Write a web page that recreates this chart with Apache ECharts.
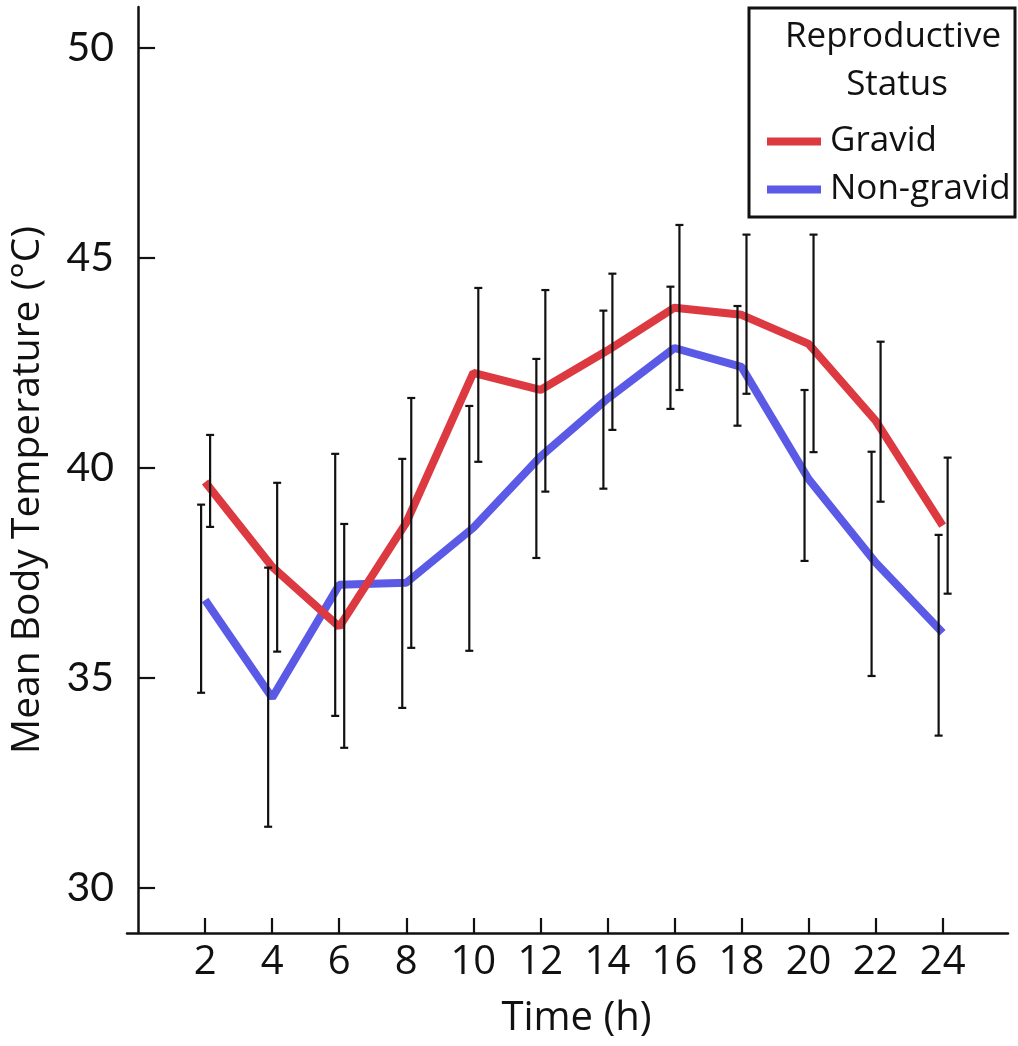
<!DOCTYPE html>
<html>
<head>
<meta charset="utf-8">
<script src="https://cdn.jsdelivr.net/npm/echarts@6/dist/echarts.min.js"></script>
<style>html,body{margin:0;padding:0;background:#fff}#c{width:1018px;height:1046px}</style>
</head>
<body>
<div id="c"></div>
<script>
// Time points (h)
const hours = [2, 4, 6, 8, 10, 12, 14, 16, 18, 20, 22, 24];
// Gravid mean body temperature and error bar limits
const gravidMean = [39.67, 37.65, 36.22, 38.70, 42.27, 41.86, 42.80, 43.82, 43.65, 42.96, 41.13, 38.63];
const gravidLow  = [38.60, 35.63, 33.34, 35.72, 40.15, 39.44, 40.91, 41.86, 41.77, 40.38, 39.20, 37.01];
const gravidHigh = [40.79, 39.65, 38.67, 41.67, 44.29, 44.24, 44.63, 45.79, 45.56, 45.56, 43.01, 40.25];
// Non-gravid mean body temperature and error bar limits
const nonGravidMean = [36.86, 34.53, 37.22, 37.27, 38.58, 40.27, 41.65, 42.86, 42.41, 39.74, 37.75, 36.08];
const nonGravidLow  = [34.65, 31.46, 34.10, 34.29, 35.65, 37.86, 39.51, 41.41, 41.01, 37.79, 35.05, 33.63];
const nonGravidHigh = [39.13, 37.63, 40.34, 40.22, 41.48, 42.60, 43.75, 44.32, 43.86, 41.86, 40.39, 38.41];
// Tick labels
const yTicks = [30, 35, 40, 45, 50];
const xTicks = hours;

const RED = '#dc3940';
const BLUE = '#5a5ae6';

function pairs(xs, ys) { return xs.map((x, i) => [x, ys[i]]); }
function bars(xs, lo, hi) { return xs.map((x, i) => [x, lo[i], hi[i]]); }

function errRender(offset) {
  return function (params, api) {
    const x = api.value(0);
    const lo = api.coord([x, api.value(1)]);
    const hi = api.coord([x, api.value(2)]);
    const cx = lo[0] + offset;
    const cap = 4;
    const style = { stroke: '#111', lineWidth: 2.2, fill: null };
    return {
      type: 'group',
      children: [
        { type: 'line', shape: { x1: cx, y1: hi[1], x2: cx, y2: lo[1] }, style: style },
        { type: 'line', shape: { x1: cx - cap, y1: hi[1], x2: cx + cap, y2: hi[1] }, style: style },
        { type: 'line', shape: { x1: cx - cap, y1: lo[1], x2: cx + cap, y2: lo[1] }, style: style }
      ]
    };
  };
}

const chart = echarts.init(document.getElementById('c'), null, { renderer: 'canvas' });
const option = {
  animation: false,
  backgroundColor: '#fff',
  grid: { left: 127, right: 10, top: 7, bottom: 113, containLabel: false, outerBoundsMode: 'none' },
  xAxis: {
    type: 'value', min: -0.33, max: 25.95,
    name: 'Time (h)', nameLocation: 'middle', nameGap: 66,
    nameTextStyle: { fontFamily: 'Open Sans', fontSize: 40, color: '#111', padding: [0, 0, 0, 18] },
    axisLine: { show: true, lineStyle: { color: '#111', width: 2.5 } },
    axisTick: { show: true, inside: true, length: 15, customValues: xTicks, lineStyle: { color: '#111', width: 2.2 } },
    axisLabel: { customValues: xTicks, fontFamily: 'Open Sans', fontSize: 40, color: '#111', margin: 10 },
    splitLine: { show: false }
  },
  yAxis: {
    type: 'value', min: 28.93, max: 50.98,
    name: 'Mean Body Temperature (°C)', nameLocation: 'middle', nameGap: 80, nameRotate: 90,
    nameTextStyle: { fontFamily: 'Open Sans', fontSize: 39, color: '#111', padding: [0, 40, 0, 0] },
    axisLine: { show: true, lineStyle: { color: '#111', width: 2.5 } },
    axisTick: { show: true, inside: true, length: 17, customValues: yTicks, lineStyle: { color: '#111', width: 2.2 } },
    axisLabel: { customValues: yTicks, fontFamily: 'Lato', fontSize: 41, color: '#111', margin: 13 },
    splitLine: { show: false }
  },
  legend: {
    orient: 'vertical', left: 762, top: 119, itemGap: 13,
    icon: 'rect', itemWidth: 54, itemHeight: 8,
    textStyle: { fontFamily: 'Open Sans', fontSize: 35, color: '#111', padding: [0, 0, 0, 4] },
    data: ['Gravid', 'Non-gravid']
  },
  graphic: [
    { type: 'rect', shape: { x: 749, y: 8, width: 266, height: 209 }, style: { fill: '#fff', stroke: '#111', lineWidth: 3 }, z: 0 },
    { type: 'text', x: 893, y: 37, style: { text: 'Reproductive', font: '35px "Open Sans"', fill: '#111', textAlign: 'center', textVerticalAlign: 'middle' }, z: 1 },
    { type: 'text', x: 897, y: 85, style: { text: 'Status', font: '35px "Open Sans"', fill: '#111', textAlign: 'center', textVerticalAlign: 'middle' }, z: 1 }
  ],
  series: [
    {
      name: 'Non-gravid', type: 'line', data: pairs(hours, nonGravidMean),
      symbol: 'none', color: BLUE, lineStyle: { width: 8, color: BLUE }, z: 2
    },
    {
      name: 'Gravid', type: 'line', data: pairs(hours, gravidMean),
      symbol: 'none', color: RED, lineStyle: { width: 8, color: RED }, z: 3
    },
    {
      type: 'custom', data: bars(hours, nonGravidLow, nonGravidHigh),
      renderItem: errRender(-4), z: 5, silent: true
    },
    {
      type: 'custom', data: bars(hours, gravidLow, gravidHigh),
      renderItem: errRender(5), z: 5, silent: true
    }
  ]
};
chart.setOption(option);
</script>
</body>
</html>
